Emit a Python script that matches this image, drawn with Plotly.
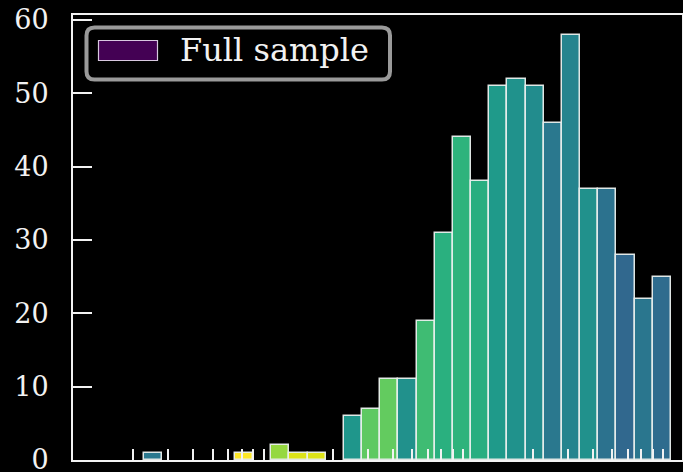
import numpy as np
import plotly.graph_objects as go

# Histogram of counts over log-spaced bins (29 bins)
bin_lo, bin_hi, n_bins = 2.268, 987.4, 29
bin_counts = [1, 0, 0, 0, 0, 1, 0, 2, 1, 1, 0, 6, 7, 11, 11, 19, 31, 44, 38,
              51, 52, 51, 46, 58, 37, 37, 28, 22, 25]
bar_colors = ["#2a788e", "#000000", "#000000", "#000000", "#000000", "#fde725",
              "#000000", "#95d840", "#dde318", "#dde318", "#000000", "#1f968b",
              "#5ec962", "#63cb5f", "#21918c", "#3fbc73", "#2ab07f", "#2eb37c",
              "#28ae80", "#1f9a8a", "#20928c", "#228c8d", "#2a788e", "#25848e",
              "#21918c", "#2c728e", "#31688e", "#2a768e", "#2f6c8e"]
rug_ticks = [2, 3, 4, 5, 6, 7, 8, 9, 20, 30, 40, 50, 60, 70, 80, 90,
             200, 300, 400, 500, 600, 700, 800, 900]
y_ticks = [0, 10, 20, 30, 40, 50, 60]
legend_label = "Full sample"

edges = np.linspace(np.log10(bin_lo), np.log10(bin_hi), n_bins + 1)
centers = (edges[:-1] + edges[1:]) / 2
widths = np.diff(edges)
# empty bins get no outline
edge_widths = [1.5 if c > 0 else 0 for c in bin_counts]

W, H = 683, 472
L, R, T, B = 73, 1, 15, 12
FONT = "DejaVu Serif"
FG = "#f2f2f2"

fig = go.Figure(go.Bar(
    x=centers, y=bin_counts, width=widths,
    marker=dict(color=bar_colors,
                line=dict(color="rgba(235,240,238,0.95)", width=edge_widths)),
    showlegend=False,
))

# pixel -> paper helpers for the hand-drawn legend box
pw, ph = W - L - R, H - T - B
def px(x):
    return (x - L) / pw
def py(y):
    return (H - B - y) / ph

def rounded_rect(x0, y0, x1, y1, r):
    rx, ry = r / pw, r / ph
    a, b, c, d = px(x0), py(y1), px(x1), py(y0)
    return (f"M{a+rx},{b} L{c-rx},{b} Q{c},{b} {c},{b+ry} L{c},{d-ry} "
            f"Q{c},{d} {c-rx},{d} L{a+rx},{d} Q{a},{d} {a},{d-ry} "
            f"L{a},{b+ry} Q{a},{b} {a+rx},{b} Z")

shapes = [
    dict(type="path", xref="paper", yref="paper",
         path=rounded_rect(86.5, 27.5, 390, 79.5, 8),
         line=dict(color="#9a9a9a", width=4), fillcolor="black", layer="above"),
    dict(type="rect", xref="paper", yref="paper",
         x0=px(98.5), x1=px(157.5), y0=py(60.5), y1=py(40.5),
         line=dict(color="#d8c8e0", width=1.2), fillcolor="#440154", layer="above"),
]

fig.update_layout(
    width=W, height=H,
    margin=dict(l=L, r=R, t=T, b=B, pad=0, autoexpand=False),
    paper_bgcolor="black", plot_bgcolor="black",
    bargap=0,
    shapes=shapes,
    annotations=[dict(text=legend_label, xref="paper", yref="paper",
                      x=px(178), y=py(50), xanchor="left", yanchor="middle",
                      showarrow=False, font=dict(family=FONT, size=32, color=FG))],
    font=dict(family=FONT, color=FG),
)
fig.update_xaxes(
    range=[0, 3.0496], showgrid=False, zeroline=False, automargin=False,
    showline=True, linecolor=FG, linewidth=2, mirror=True,
    tickvals=np.log10(rug_ticks), showticklabels=False,
    ticks="inside", ticklen=11, tickwidth=2, tickcolor=FG,
)
fig.update_yaxes(
    range=[0, 60.68], showgrid=False, zeroline=False, automargin=False,
    showline=True, linecolor=FG, linewidth=2, mirror=True,
    tickvals=y_ticks, ticks="inside", ticklen=19, tickwidth=2, tickcolor=FG,
    tickfont=dict(family=FONT, size=27, color=FG),
    ticklabelstandoff=17, ticklabeloverflow="allow",
)

fig.write_html("out.html")
